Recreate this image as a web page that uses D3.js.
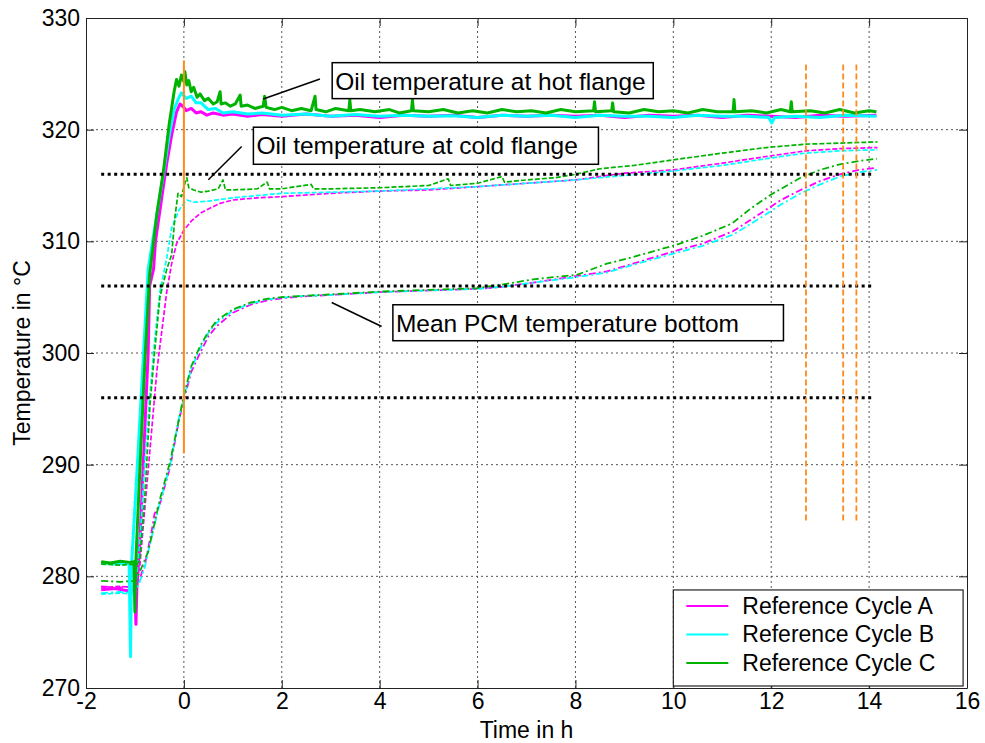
<!DOCTYPE html>
<html>
<head>
<meta charset="utf-8">
<script src="https://cdn.jsdelivr.net/npm/d3@7"></script>
<style>
  html, body { margin: 0; padding: 0; background: #fff; }
  svg { display: block; font-family: "Liberation Sans", Arial, sans-serif; }
</style>
</head>
<body>
<svg id="chart" width="985" height="743"></svg>
<script>
// ---------------- DATA ----------------
const xTicks = [-2, 0, 2, 4, 6, 8, 10, 12, 14, 16];
const yTicks = [270, 280, 290, 300, 310, 320, 330];
const cycles = ["Reference Cycle A", "Reference Cycle B", "Reference Cycle C"];
const cycleColors = ["#ff00ff", "#00ffff", "#00b300"];

// Oil temperature at hot flange  [time h, temp °C]
const hotA = [[-1.69,278.8],[-1.4,278.9],[-1.15,278.7],[-1.0,278.8],[-0.98,275.7],[-0.96,279.0],[-0.9,283],[-0.8,293],[-0.73,300],[-0.7,306],[-0.62,307.5],[-0.58,310],[-0.45,314],[-0.35,317],[-0.25,319.5],[-0.15,321.6],[-0.08,322.3],[0.0,322.0],[0.05,321.7],[0.15,321.9],[0.25,321.5],[0.35,321.6],[0.47,321.3],[0.6,321.5],[0.8,321.3],[1.0,321.4],[1.3,321.2],[1.6,321.35],[2.0,321.2],[2.5,321.4],[3.0,321.2],[3.5,321.3],[4.0,321.1],[4.5,321.3],[5.0,321.2],[5.5,321.3],[6.0,321.1],[6.5,321.3],[7.0,321.2],[7.5,321.3],[8.0,321.2],[8.5,321.3],[9.0,321.1],[9.5,321.3],[10.0,321.2],[10.5,321.3],[11.0,321.1],[11.5,321.3],[12.0,321.2],[12.5,321.1],[13.0,321.3],[13.5,321.2],[14.15,321.3]];
const hotB = [[-1.69,281.2],[-1.4,281.1],[-1.12,281.2],[-1.09,272.8],[-1.07,281.0],[-0.95,290],[-0.85,298],[-0.73,307.5],[-0.55,312.5],[-0.42,316],[-0.3,319.5],[-0.2,321.8],[-0.1,322.9],[-0.05,323.3],[0.05,322.8],[0.15,323.0],[0.25,322.4],[0.35,322.4],[0.5,321.8],[0.65,321.9],[0.8,321.5],[1.0,321.6],[1.3,321.4],[1.6,321.5],[2.0,321.3],[2.5,321.4],[3.0,321.2],[3.5,321.35],[4.0,321.2],[4.5,321.3],[5.0,321.2],[5.5,321.25],[6.0,321.1],[6.5,321.3],[7.0,321.2],[7.5,321.3],[8.0,321.1],[8.5,321.3],[9.0,321.2],[9.5,321.2],[10.0,321.1],[10.5,321.3],[11.0,321.2],[11.5,321.2],[11.95,321.1],[12.01,320.6],[12.07,321.1],[12.5,321.2],[13.0,321.1],[13.5,321.3],[14.15,321.2]];
const hotC = [[-1.69,281.3],[-1.5,281.2],[-1.3,281.35],[-1.1,281.25],[-1.02,281.3],[-1.0,276.8],[-0.98,281.5],[-0.9,289.5],[-0.8,299],[-0.7,307],[-0.55,312.5],[-0.42,316.2],[-0.3,320.5],[-0.2,323.4],[-0.15,324.5],[-0.1,323.9],[-0.05,324.9],[0.0,324.3],[0.02,325.2],[0.06,324.0],[0.1,324.4],[0.15,323.4],[0.2,323.8],[0.27,322.9],[0.33,323.2],[0.42,322.6],[0.5,322.8],[0.6,322.3],[0.68,322.5],[0.74,323.4],[0.76,322.3],[0.85,322.4],[0.95,322.1],[1.05,322.3],[1.15,323.1],[1.17,322.1],[1.3,322.2],[1.45,321.9],[1.62,322.1],[1.65,323.0],[1.68,322.0],[1.85,321.8],[2.0,322.0],[2.2,321.7],[2.4,321.9],[2.6,321.7],[2.68,323.0],[2.7,321.8],[2.9,321.6],[3.1,321.9],[3.37,321.7],[3.39,322.7],[3.41,321.7],[3.6,321.8],[3.9,321.6],[4.2,321.8],[4.4,321.5],[4.65,321.7],[4.67,322.7],[4.69,321.7],[5.0,321.6],[5.3,321.8],[5.6,321.5],[5.9,321.7],[6.2,321.5],[6.5,321.8],[6.8,321.6],[7.1,321.7],[7.4,321.5],[7.7,321.8],[8.0,321.6],[8.37,321.7],[8.39,322.5],[8.41,321.6],[8.74,321.7],[8.76,322.4],[8.78,321.6],[9.1,321.5],[9.4,321.8],[9.7,321.6],[10.0,321.7],[10.3,321.5],[10.6,321.8],[10.9,321.6],[11.22,321.6],[11.24,322.7],[11.26,321.6],[11.6,321.7],[11.9,321.5],[12.2,321.8],[12.39,321.6],[12.41,322.5],[12.43,321.6],[12.8,321.7],[13.1,321.5],[13.4,321.8],[13.7,321.5],[14.0,321.7],[14.15,321.6]];

// Oil temperature at cold flange
const coldA = [[-1.69,279.0],[-1.3,279.1],[-1.0,279.0],[-0.9,281],[-0.8,286],[-0.7,291],[-0.62,295],[-0.55,298.5],[-0.45,302],[-0.35,305.5],[-0.25,308],[-0.15,309.8],[0,311],[0.15,311.8],[0.33,312.5],[0.5,312.9],[0.74,313.4],[1,313.7],[1.5,313.9],[2,314.0],[3,314.3],[4,314.5],[5,314.6],[6,314.9],[7,315.2],[8,315.5],[8.5,315.8],[9,316.1],[10,316.4],[11,317.0],[11.9,317.6],[12.7,318.1],[13.4,318.3],[14.17,318.4]];
const coldB = [[-1.69,278.4],[-1.3,278.5],[-1.0,278.4],[-0.9,283],[-0.8,290],[-0.7,296],[-0.6,301],[-0.49,305.5],[-0.35,308.5],[-0.25,311.2],[-0.1,312.8],[0,313.4],[0.06,313.7],[0.2,313.5],[0.5,313.6],[1,313.9],[2,314.3],[3,314.4],[4,314.5],[5,314.7],[6,314.9],[7,315.2],[8,315.5],[8.5,315.7],[10,316.3],[11,316.8],[11.9,317.4],[12.7,317.9],[13.4,318.1],[14.17,318.2]];
const coldC = [[-1.69,281.1],[-1.3,281.0],[-0.95,281.1],[-0.9,281.5],[-0.8,287],[-0.69,295.5],[-0.6,300],[-0.49,305],[-0.35,307.5],[-0.25,308.8],[-0.18,312.3],[-0.12,314.3],[-0.05,314.0],[0.02,315.2],[0.06,315.7],[0.1,314.8],[0.2,314.6],[0.35,314.4],[0.5,314.5],[0.7,314.7],[0.8,315.5],[0.85,314.6],[1,314.6],[1.5,314.7],[1.7,315.3],[1.75,314.7],[2,314.7],[2.6,315.1],[2.65,314.7],[3,314.7],[4,314.8],[5,315.0],[5.4,315.6],[5.45,315.0],[6,315.2],[6.5,315.8],[6.55,315.3],[7,315.5],[7.6,315.7],[8,316.0],[8.5,316.5],[9.2,316.8],[10,317.3],[11,317.9],[11.9,318.4],[12.7,318.7],[13.4,318.8],[14.17,318.9]];

// Mean PCM temperature bottom
const pcmA = [[-1.69,279.1],[-1.3,279.0],[-1.0,279.1],[-0.92,279.6],[-0.8,281],[-0.66,284],[-0.6,285.6],[-0.49,286.5],[-0.28,289.8],[-0.1,294],[0,295.8],[0.15,298.3],[0.33,300],[0.5,301.5],[0.67,302.4],[1.0,303.6],[1.35,304.3],[1.69,304.7],[2.0,304.9],[2.37,305.05],[3,305.2],[4,305.45],[5,305.6],[6,305.75],[6.46,305.9],[7.14,306.3],[8.03,306.9],[8.64,307.3],[9.18,308.0],[10,309.1],[10.6,309.8],[11.22,310.9],[11.78,312.5],[12.2,313.7],[12.6,314.6],[13.0,315.4],[13.4,316.0],[13.8,316.4],[14.16,316.6]];
const pcmB = [[-1.69,278.5],[-1.3,278.6],[-1.0,278.5],[-0.92,279.3],[-0.8,280.8],[-0.66,283.5],[-0.49,286.6],[-0.28,290.0],[-0.1,294.2],[0,296.0],[0.15,298.6],[0.33,300.4],[0.5,301.8],[0.67,302.7],[1.0,303.8],[1.35,304.4],[1.69,304.8],[2.0,304.95],[2.37,305.1],[3,305.2],[4,305.45],[5,305.6],[6,305.75],[6.46,305.9],[7.14,306.3],[8.03,306.8],[8.64,307.2],[9.18,307.9],[10,308.9],[10.6,309.6],[11.22,310.6],[11.78,312.1],[12.2,313.3],[12.6,314.3],[13.0,315.1],[13.4,315.8],[13.8,316.2],[14.16,316.4]];
const pcmC = [[-1.69,279.6],[-1.3,279.5],[-1.0,279.6],[-0.92,280.2],[-0.73,282.2],[-0.49,286.9],[-0.28,290.3],[0,296.2],[0.15,298.8],[0.33,300.6],[0.5,301.9],[0.67,302.9],[1,303.9],[1.35,304.5],[1.69,304.85],[2,305.0],[2.37,305.1],[3,305.25],[4,305.5],[5,305.65],[5.98,305.8],[6.46,306.1],[7.14,306.6],[8.03,307.0],[8.64,308.0],[9.18,308.6],[10.07,309.7],[10.6,310.5],[11.2,311.6],[11.57,312.9],[12.0,314.2],[12.6,315.7],[13.0,316.4],[13.4,316.9],[13.8,317.2],[14.16,317.4]];

// Reference levels (black dotted) and markers (orange)
const refLevels = [316, 306, 296];
const refSpan = [-1.69, 14.1];
const startLine = {t: 0, from: 291, to: 326.2};
const endLines = [12.71, 13.47, 13.74];
const endSpan = [285, 326.1];

// Annotations: box [left t, top T, right t, bottom T], pointer [t1,T1,t2,T2]
const annoTexts = ["Oil temperature at hot flange", "Oil temperature at cold flange", "Mean PCM temperature bottom"];
const annoBoxes = [[3.03, 326.0, 9.59, 322.78], [1.42, 320.22, 8.47, 316.9], [4.27, 304.32, 12.25, 301.1]];
const annoPointers = [[1.62, 322.75, 2.78, 324.54], [0.50, 315.52, 1.18, 318.5], [3.02, 304.52, 4.04, 302.37]];

// ---------------- CHART ----------------
const svg = d3.select("#chart");
const m = {left: 86, top: 18, right: 18, bottom: 55};
const W = 985 - m.left - m.right, H = 743 - m.top - m.bottom;
const x = d3.scaleLinear().domain([-2, 16]).range([m.left, m.left + W]);
const y = d3.scaleLinear().domain([270, 330]).range([m.top + H, m.top]);

const FONT = 23;

// grid
const grid = svg.append("g");
grid.selectAll("line.gx").data(xTicks.slice(1, -1)).join("line")
  .attr("x1", d => x(d)).attr("x2", d => x(d)).attr("y1", y(270)).attr("y2", y(330))
  .attr("stroke", "#555").attr("stroke-width", 1).attr("stroke-dasharray", "2,3");
grid.selectAll("line.gy").data(yTicks.slice(1, -1)).join("line")
  .attr("y1", d => y(d)).attr("y2", d => y(d)).attr("x1", x(-2)).attr("x2", x(16))
  .attr("stroke", "#555").attr("stroke-width", 1).attr("stroke-dasharray", "2,3");

// axes
const fmt = d => String(d);
const xAxis = svg.append("g").attr("transform", `translate(0,${y(270)})`)
  .call(d3.axisBottom(x).tickValues(xTicks).tickFormat(fmt).tickSizeInner(-8).tickSizeOuter(0).tickPadding(5));
const yAxis = svg.append("g").attr("transform", `translate(${x(-2)},0)`)
  .call(d3.axisLeft(y).tickValues(yTicks).tickFormat(fmt).tickSizeInner(-8).tickSizeOuter(0).tickPadding(6));
svg.append("g").attr("transform", `translate(0,${y(330)})`)
  .call(d3.axisTop(x).tickValues(xTicks).tickFormat("").tickSizeInner(-8).tickSizeOuter(0));
svg.append("g").attr("transform", `translate(${x(16)},0)`)
  .call(d3.axisRight(y).tickValues(yTicks).tickFormat("").tickSizeInner(-8).tickSizeOuter(0));
svg.selectAll(".domain, .tick line").attr("stroke", "#222");
svg.selectAll(".tick text").attr("font-size", FONT).attr("fill", "#000")
  .attr("font-family", "'Liberation Sans', Arial, sans-serif");
xAxis.selectAll(".tick text").attr("text-anchor", "middle");

// axis labels
svg.append("text").attr("x", x(7)).attr("y", 738).attr("text-anchor", "middle")
  .attr("font-size", FONT).text("Time in h");
svg.append("text").attr("transform", `translate(30,${y(300)}) rotate(-90)`).attr("text-anchor", "middle")
  .attr("font-size", FONT).text("Temperature in °C");

// clip
svg.append("clipPath").attr("id", "clip").append("rect")
  .attr("x", x(-2)).attr("y", y(330)).attr("width", W).attr("height", H);

const line = d3.line().x(d => x(d[0])).y(d => y(d[1]));
const plot = svg.append("g").attr("clip-path", "url(#clip)");

const groups = [
  {data: [hotA, hotB, hotC], width: 3, dash: null},
  {data: [coldA, coldB, coldC], width: 1.7, dash: "5,2"},
  {data: [pcmA, pcmB, pcmC], width: 1.8, dash: "7,3,2,3"}
];
// draw cycle A first, then B, then C
for (let c = 0; c < 3; c++) {
  groups.forEach(g => {
    plot.append("path").datum(g.data[c]).attr("d", line)
      .attr("fill", "none").attr("stroke", cycleColors[c]).attr("stroke-width", g.width)
      .attr("stroke-linejoin", "round")
      .attr("stroke-dasharray", g.dash);
  });
}

// black dotted reference levels
svg.append("g").selectAll("line").data(refLevels).join("line")
  .attr("x1", x(refSpan[0])).attr("x2", x(refSpan[1]))
  .attr("y1", d => y(d)).attr("y2", d => y(d))
  .attr("stroke", "#000").attr("stroke-width", 3).attr("stroke-dasharray", "3,3.5");

// orange markers
const orange = "#ff8c1a";
svg.append("line").attr("x1", x(startLine.t)).attr("x2", x(startLine.t))
  .attr("y1", y(startLine.from)).attr("y2", y(startLine.to))
  .attr("stroke", orange).attr("stroke-width", 2);
svg.append("g").selectAll("line").data(endLines).join("line")
  .attr("x1", d => x(d)).attr("x2", d => x(d))
  .attr("y1", y(endSpan[0])).attr("y2", y(endSpan[1]))
  .attr("stroke", orange).attr("stroke-width", 1.8).attr("stroke-dasharray", "6,3");

// annotations
annoTexts.forEach((txt, i) => {
  const b = annoBoxes[i], p = annoPointers[i];
  svg.append("line").attr("x1", x(p[0])).attr("y1", y(p[1])).attr("x2", x(p[2])).attr("y2", y(p[3]))
    .attr("stroke", "#000").attr("stroke-width", 1.5);
  svg.append("rect").attr("x", x(b[0])).attr("y", y(b[1]))
    .attr("width", x(b[2]) - x(b[0])).attr("height", y(b[3]) - y(b[1]))
    .attr("fill", "#fff").attr("stroke", "#000").attr("stroke-width", 1.5);
  svg.append("text").attr("x", x(b[0]) + 3).attr("y", y(b[1]) + 27)
    .attr("font-size", 24.5).attr("fill", "#000").text(txt);
});

// legend
const lg = svg.append("g");
const lgX = x(10), lgY = y(278.78), lgW = x(15.92) - x(10), lgH = y(270.18) - y(278.78);
lg.append("rect").attr("x", lgX).attr("y", lgY).attr("width", lgW).attr("height", lgH)
  .attr("fill", "#fff").attr("stroke", "#222").attr("stroke-width", 1.2);
cycles.forEach((name, i) => {
  const cy = lgY + 16 + i * 28.5;
  lg.append("line").attr("x1", lgX + 13).attr("x2", lgX + 55).attr("y1", cy).attr("y2", cy)
    .attr("stroke", cycleColors[i]).attr("stroke-width", 2);
  lg.append("text").attr("x", lgX + 69).attr("y", cy + 8).attr("font-size", FONT).text(name);
});
</script>
</body>
</html>
